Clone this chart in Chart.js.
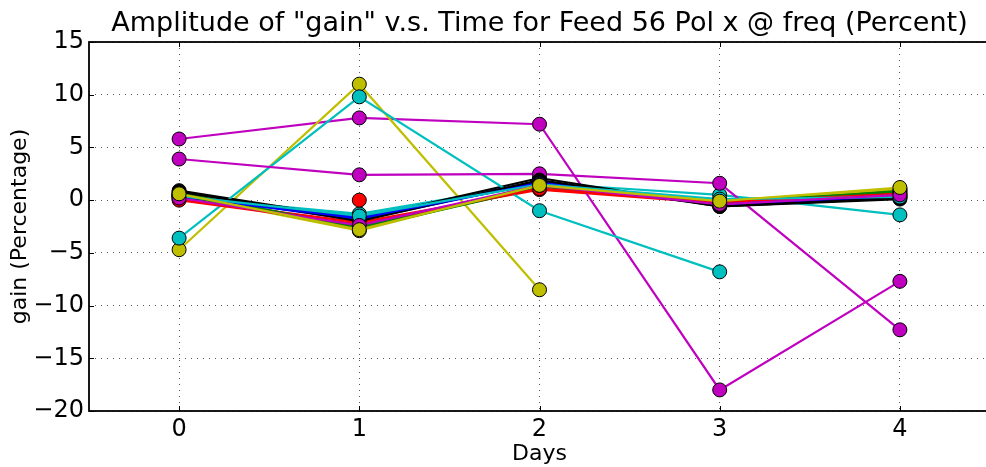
<!DOCTYPE html>
<html lang="en">
<head>
    <meta charset="UTF-8">
    <title>Amplitude of gain v.s. Time</title>
    <script src="https://cdn.jsdelivr.net/npm/chart.js"></script>
    <style>
        html, body {
            margin: 0;
            padding: 0;
            background: #ffffff;
            overflow: hidden;
        }
        /* the axes run a few pixels past the right edge, so the frame is cut there */
        .clip {
            width: 986px;
            height: 467px;
            overflow: hidden;
        }
        .chart-container {
            width: 1000px;
            height: 467px;
        }
    </style>
</head>
<body>
    <div class="clip">
        <div class="chart-container">
            <canvas id="gainChart"></canvas>
        </div>
    </div>

    <script>
        const plotTitle = 'Amplitude of "gain" v.s. Time for Feed 56 Pol x @ freq (Percent)';
        const days = [0, 1, 2, 3, 4];
        const xTicks = [0, 1, 2, 3, 4];
        const yTicks = [-20, -15, -10, -5, 0, 5, 10, 15];

        // matplotlib's classic colour cycle: b g r c m y k
        const colorCycle = ['#0000ff', '#008000', '#ff0000', '#00bfbf', '#bf00bf', '#bfbf00', '#000000'];

        // one array per channel, gain change in percent for days 0..4
        const s01 = [0.4, -1.6, 1.8, -0.4, 0.3];
        const s02 = [0.6, -2.5, 1.3, -0.2, 0.9];
        const s03 = [0.1, -2.1, 1.0, -0.3, 0.7];
        const s04 = [0.3, -1.3, 1.6, 0.5, -1.4];
        const s05 = [5.8, 7.8, 7.2, -18.0, -7.7];
        const s06 = [-4.7, 11.0, -8.5, null, null];
        const s07 = [0.9, -1.8, 2.1, -0.6, 0.1];
        const s08 = [0.5, -1.9, 1.7, -0.5, 0.4];
        const s09 = [0.7, -2.6, 1.2, -0.1, 1.0];
        const s10 = [null, 0.0, null, null, null];
        const s11 = [-3.6, 9.8, -1.0, -6.8, null];
        const s12 = [3.9, 2.4, 2.5, 1.6, -12.3];
        const s13 = [0.5, -2.9, 1.5, -0.2, 1.1];
        const s14 = [0.8, -2.0, 1.9, -0.6, 0.2];
        const s15 = [0.3, -1.7, 1.6, -0.3, 0.5];
        const s16 = [0.5, -2.7, 1.2, -0.2, 0.8];
        const s17 = [0.0, -2.3, 1.1, -0.2, 0.6];
        const s18 = [0.4, -1.5, 1.5, 0.1, 0.3];
        const s19 = [0.2, -2.4, 1.4, -0.4, 0.5];
        const s20 = [0.6, -2.8, 1.4, -0.1, 1.2];

        const gainSeries = [s01, s02, s03, s04, s05, s06, s07, s08, s09, s10,
                            s11, s12, s13, s14, s15, s16, s17, s18, s19, s20];

        const font = '"DejaVu Sans", "Liberation Sans", sans-serif';

        // later series sit on top, like matplotlib
        const datasets = gainSeries.map((values, i) => {
            const color = colorCycle[i % colorCycle.length];
            return {
                data: values.map((v, d) => ({ x: days[d], y: v })),
                borderColor: color,
                backgroundColor: color,
                borderWidth: 2.2,
                pointRadius: 7,
                pointBorderColor: '#000000',
                pointBorderWidth: 1,
                pointBackgroundColor: color,
                spanGaps: false,
                order: -i
            };
        });

        // axes frame, inward ticks and the title centred over the axes
        const framePlugin = {
            id: 'frame',
            afterDraw(chart) {
                const { ctx, chartArea: a, scales: { x, y } } = chart;
                ctx.save();
                ctx.strokeStyle = '#000000';
                ctx.lineWidth = 1;
                ctx.beginPath();
                xTicks.forEach(v => {
                    const px = Math.round(x.getPixelForValue(v)) + 0.5;
                    ctx.moveTo(px, a.bottom); ctx.lineTo(px, a.bottom - 5);
                    ctx.moveTo(px, a.top); ctx.lineTo(px, a.top + 5);
                });
                yTicks.forEach(v => {
                    const py = Math.round(y.getPixelForValue(v)) + 0.5;
                    ctx.moveTo(a.left, py); ctx.lineTo(a.left + 5, py);
                });
                ctx.stroke();
                ctx.lineWidth = 1.8;
                ctx.strokeRect(a.left, a.top, a.right - a.left, a.bottom - a.top);

                ctx.fillStyle = '#000000';
                ctx.font = '27px ' + font;
                ctx.textAlign = 'center';
                ctx.textBaseline = 'alphabetic';
                ctx.fillText(plotTitle, (a.left + a.right) / 2, 31);
                ctx.restore();
            }
        };

        const gridStyle = {
            color: 'rgba(0, 0, 0, 0.65)',
            lineWidth: 1,
            drawTicks: false
        };

        new Chart(document.getElementById('gainChart').getContext('2d'), {
            type: 'line',
            data: { datasets },
            options: {
                responsive: true,
                maintainAspectRatio: false,
                animation: false,
                layout: { padding: { top: 42, right: 10, left: 0, bottom: 0 } },
                plugins: {
                    legend: { display: false },
                    title: { display: false },
                    tooltip: { enabled: false }
                },
                scales: {
                    x: {
                        type: 'linear',
                        min: -0.5,
                        max: 4.5,
                        afterBuildTicks: scale => { scale.ticks = xTicks.map(v => ({ value: v })); },
                        afterFit: scale => { scale.height = 56; },
                        grid: gridStyle,
                        border: { display: false, dash: [1, 5] },
                        ticks: {
                            padding: 4,
                            color: '#000000',
                            font: { family: font, size: 24 },
                            maxRotation: 0
                        },
                        title: {
                            display: true,
                            text: 'Days',
                            color: '#000000',
                            font: { family: font, size: 22 },
                            padding: { top: 0, bottom: 0 }
                        }
                    },
                    y: {
                        type: 'linear',
                        min: -20,
                        max: 15,
                        afterBuildTicks: scale => { scale.ticks = yTicks.map(v => ({ value: v })); },
                        afterFit: scale => { scale.width = 89; },
                        grid: gridStyle,
                        border: { display: false, dash: [1, 5] },
                        ticks: {
                            padding: 5,
                            color: '#000000',
                            font: { family: font, size: 24 },
                            callback: v => String(v).replace('-', '\u2212')
                        },
                        title: {
                            display: true,
                            text: 'gain (Percentage)',
                            color: '#000000',
                            font: { family: font, size: 22 },
                            padding: { top: 7, bottom: 7 }
                        }
                    }
                }
            },
            plugins: [framePlugin]
        });
    </script>
</body>
</html>
